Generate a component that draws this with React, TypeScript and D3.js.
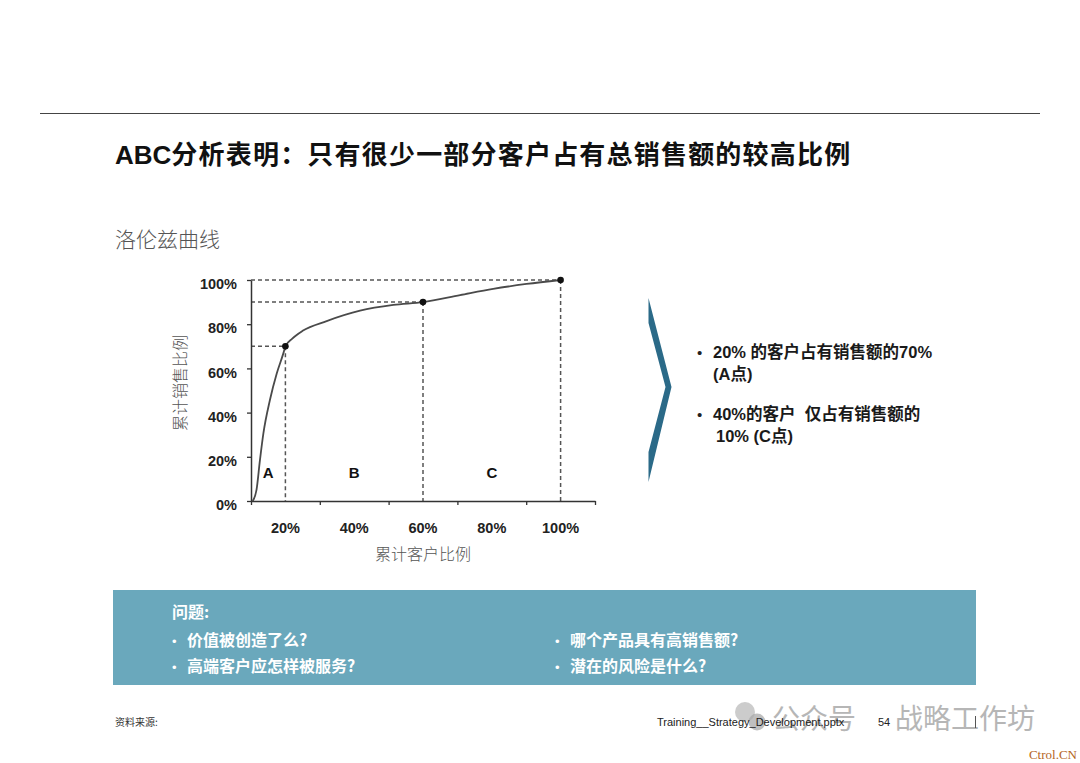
import React, { useRef, useEffect } from 'react';
import * as d3 from 'd3';

// cumulative share of customers (%) and share of sales (%)
const customerPct = [10.5, 11.6, 12.6, 13.6, 15.5, 17.5, 19.4, 20, 22, 25, 32, 41.7, 51.4, 60, 70.8, 80.4, 90.1, 100];
const salesPct = [0, 5, 18.5, 30.6, 45.7, 57.8, 66.8, 70, 73.5, 77, 81.4, 86.1, 88.7, 90, 93.2, 96, 98.2, 100];

// marked points A / B-C border / end
const markX = [20, 60, 100];
const markY = [70, 90, 100];

const zoneLabels = ['A', 'B', 'C'];
const zoneX = [15, 40, 80];

const xTickLabels = [20, 40, 60, 80, 100];
const xTickMarks = [10, 30, 50, 70, 90, 110];
const yTicks = [0, 20, 40, 60, 80, 100];

const title = 'ABC分析表明：只有很少一部分客户占有总销售额的较高比例';
const subtitle = '洛伦兹曲线';
const yTitle = '累计销售比例';
const xTitle = '累计客户比例';

const bulletLines = [
  { text: '20% 的客户占有销售额的70%', bullet: true, dx: 0 },
  { text: '(A点)', bullet: false, dx: 0 },
  { text: '40%的客户  仅占有销售额的', bullet: true, dx: 0 },
  { text: '10% (C点)', bullet: false, dx: 3 },
];

const questionHead = '问题:';
const questionsLeft = ['价值被创造了么?', '高端客户应怎样被服务?'];
const questionsRight = ['哪个产品具有高销售额?', '潜在的风险是什么?'];

const CJK = '"Noto Sans CJK SC", "Noto Sans", sans-serif';
const LAT = '"Liberation Sans", Arial, "Noto Sans CJK SC", sans-serif';

function App() {
  const svgRef = useRef<SVGSVGElement>(null);

  useEffect(() => {
    const svg = d3.select(svgRef.current);
    svg.selectAll('*').remove();

    const x = d3.scaleLinear().domain([10, 110]).range([251, 595]);
    const y = d3.scaleLinear().domain([0, 100]).range([501, 280]);

    // top rule
    svg.append('line')
      .attr('x1', 40).attr('x2', 1040).attr('y1', 113.5).attr('y2', 113.5)
      .attr('stroke', '#444').attr('stroke-width', 1);

    // title
    const t = svg.append('text')
      .attr('x', 115).attr('y', 164)
      .style('font-size', '26px').style('font-weight', 'bold').attr('fill', '#111');
    t.append('tspan').style('font-family', LAT).text(title.slice(0, 3));
    t.append('tspan').style('font-family', CJK).style('letter-spacing', '1.2px').text(title.slice(3));

    svg.append('text')
      .attr('x', 115).attr('y', 247)
      .style('font-family', CJK).style('font-size', '21px').style('font-weight', 300)
      .attr('fill', '#555').text(subtitle);

    // chart
    const g = svg.append('g');

    // dashed guides
    markX.forEach((mx, i) => {
      g.append('line')
        .attr('x1', x(10)).attr('x2', x(mx)).attr('y1', y(markY[i])).attr('y2', y(markY[i]))
        .attr('stroke', '#555').attr('stroke-width', 1.5).attr('stroke-dasharray', '4,3');
      g.append('line')
        .attr('x1', x(mx)).attr('x2', x(mx)).attr('y1', y(markY[i])).attr('y2', y(0))
        .attr('stroke', '#555').attr('stroke-width', 1.5).attr('stroke-dasharray', '4,3');
    });

    // lorenz curve
    const line = d3.line<number>()
      .x((_, i) => x(customerPct[i]))
      .y(d => y(d))
      .curve(d3.curveMonotoneX);
    g.append('path')
      .datum(salesPct)
      .attr('d', line)
      .attr('fill', 'none')
      .attr('stroke', '#4a4a4a')
      .attr('stroke-width', 1.8);

    markX.forEach((mx, i) => {
      g.append('circle')
        .attr('cx', x(mx)).attr('cy', y(markY[i])).attr('r', 3.3).attr('fill', '#111');
    });

    // axes
    const yAxis = g.append('g')
      .attr('transform', `translate(${x(10)},0)`)
      .call(d3.axisLeft(y).tickValues(yTicks).tickSize(4).tickSizeOuter(0).tickPadding(10)
        .tickFormat(d => `${d}%`));
    yAxis.select('.domain').attr('stroke', '#333').attr('stroke-width', 1.5);
    yAxis.selectAll('.tick line').attr('stroke', '#333').attr('stroke-width', 1.3);
    yAxis.selectAll('.tick text')
      .attr('dy', '0.6em')
      .attr('fill', '#222')
      .style('font-family', LAT).style('font-size', '14.5px').style('font-weight', 'bold');

    const xAxis = g.append('g')
      .attr('transform', `translate(0,${y(0)})`)
      .call(d3.axisBottom(x).tickValues(xTickMarks).tickSize(4).tickSizeOuter(0).tickFormat(() => ''));
    xAxis.select('.domain').attr('stroke', '#333').attr('stroke-width', 1.5);
    xAxis.selectAll('.tick line').attr('stroke', '#333').attr('stroke-width', 1.3);

    g.selectAll('.xlab')
      .data(xTickLabels)
      .enter().append('text')
      .attr('x', d => x(d)).attr('y', y(0) + 32)
      .attr('text-anchor', 'middle')
      .attr('fill', '#222')
      .style('font-family', LAT).style('font-size', '14.5px').style('font-weight', 'bold')
      .text(d => `${d}%`);

    g.selectAll('.zone')
      .data(zoneLabels)
      .enter().append('text')
      .attr('x', (_, i) => x(zoneX[i])).attr('y', y(13) + 6)
      .attr('text-anchor', 'middle')
      .attr('fill', '#111')
      .style('font-family', LAT).style('font-size', '15px').style('font-weight', 'bold')
      .text(d => d);

    g.append('text')
      .attr('transform', `translate(186,383) rotate(-90)`)
      .attr('text-anchor', 'middle')
      .style('font-family', CJK).style('font-size', '16px').style('font-weight', 300)
      .attr('fill', '#555').text(yTitle);

    g.append('text')
      .attr('x', x(60)).attr('y', 560)
      .attr('text-anchor', 'middle')
      .style('font-family', CJK).style('font-size', '16px').style('font-weight', 300)
      .attr('fill', '#555').text(xTitle);

    // chevron
    svg.append('path')
      .attr('d', 'M648.5,298 L671.5,387 L648.5,482 L648.5,452 L665.5,387 L648.5,323 Z')
      .attr('fill', '#2b6a88');

    // key findings
    const by = [358, 380, 420, 442];
    bulletLines.forEach((b, i) => {
      if (b.bullet) {
        svg.append('text')
          .attr('x', 697).attr('y', by[i])
          .style('font-family', LAT).style('font-size', '15px').attr('fill', '#222').text('•');
      }
      svg.append('text')
        .attr('x', 713 + b.dx).attr('y', by[i])
        .style('white-space', 'pre')
        .style('font-family', LAT).style('font-size', '16.5px').style('font-weight', 'bold')
        .attr('fill', '#1a1a1a').text(b.text);
    });

    // questions box
    svg.append('rect')
      .attr('x', 113).attr('y', 590).attr('width', 863).attr('height', 95)
      .attr('fill', '#6aa8bc');
    const qStyle = (s: d3.Selection<SVGTextElement, unknown, null, undefined>) =>
      s.style('font-family', CJK).style('font-size', '16px').style('font-weight', 'bold').attr('fill', '#fff');
    qStyle(svg.append('text').attr('x', 172).attr('y', 618).text(questionHead));
    [questionsLeft, questionsRight].forEach((col, c) => {
      const bx = c === 0 ? 172 : 555;
      col.forEach((q, i) => {
        const yy = 646 + i * 26;
        svg.append('text').attr('x', bx).attr('y', yy)
          .style('font-family', LAT).style('font-size', '13px').attr('fill', '#fff').text('•');
        qStyle(svg.append('text').attr('x', bx + 15).attr('y', yy).text(q));
      });
    });

    // footer
    svg.append('text')
      .attr('x', 115).attr('y', 726)
      .style('font-family', CJK).style('font-size', '10px').attr('fill', '#333').text('资料来源:');

    // watermark
    svg.append('circle').attr('cx', 745).attr('cy', 712).attr('r', 10).attr('fill', '#bbb').attr('opacity', 0.75);
    svg.append('circle').attr('cx', 757).attr('cy', 722).attr('r', 8.5).attr('fill', '#aaa').attr('opacity', 0.75);
    svg.append('text')
      .attr('x', 772).attr('y', 729)
      .style('font-family', CJK).style('font-size', '28px').attr('fill', '#aaa').attr('opacity', 0.85)
      .text('公众号');
    svg.append('text')
      .attr('x', 895).attr('y', 729)
      .style('font-family', CJK).style('font-size', '28px').attr('fill', '#aaa').attr('opacity', 0.85)
      .text('战略工作坊');

    svg.append('text')
      .attr('x', 657).attr('y', 726)
      .style('font-family', LAT).style('font-size', '11px').attr('fill', '#222')
      .text('Training__Strategy_Development.pptx');
    svg.append('text')
      .attr('x', 878).attr('y', 726)
      .style('font-family', LAT).style('font-size', '11px').attr('fill', '#222').text('54');
    svg.append('line')
      .attr('x1', 975.5).attr('x2', 975.5).attr('y1', 716).attr('y2', 728)
      .attr('stroke', '#555').attr('stroke-width', 1);

    svg.append('text')
      .attr('x', 1077).attr('y', 759)
      .attr('text-anchor', 'end')
      .style('font-family', '"Liberation Serif", "DejaVu Serif", serif').style('font-size', '13px')
      .attr('fill', '#b5651d').text('Ctrol.CN');
  }, []);

  return (
    <svg
      ref={svgRef}
      width={1080}
      height={763}
      style={{ position: 'absolute', left: 0, top: 0, background: '#fff' }}
    />
  );
}

export default App;
